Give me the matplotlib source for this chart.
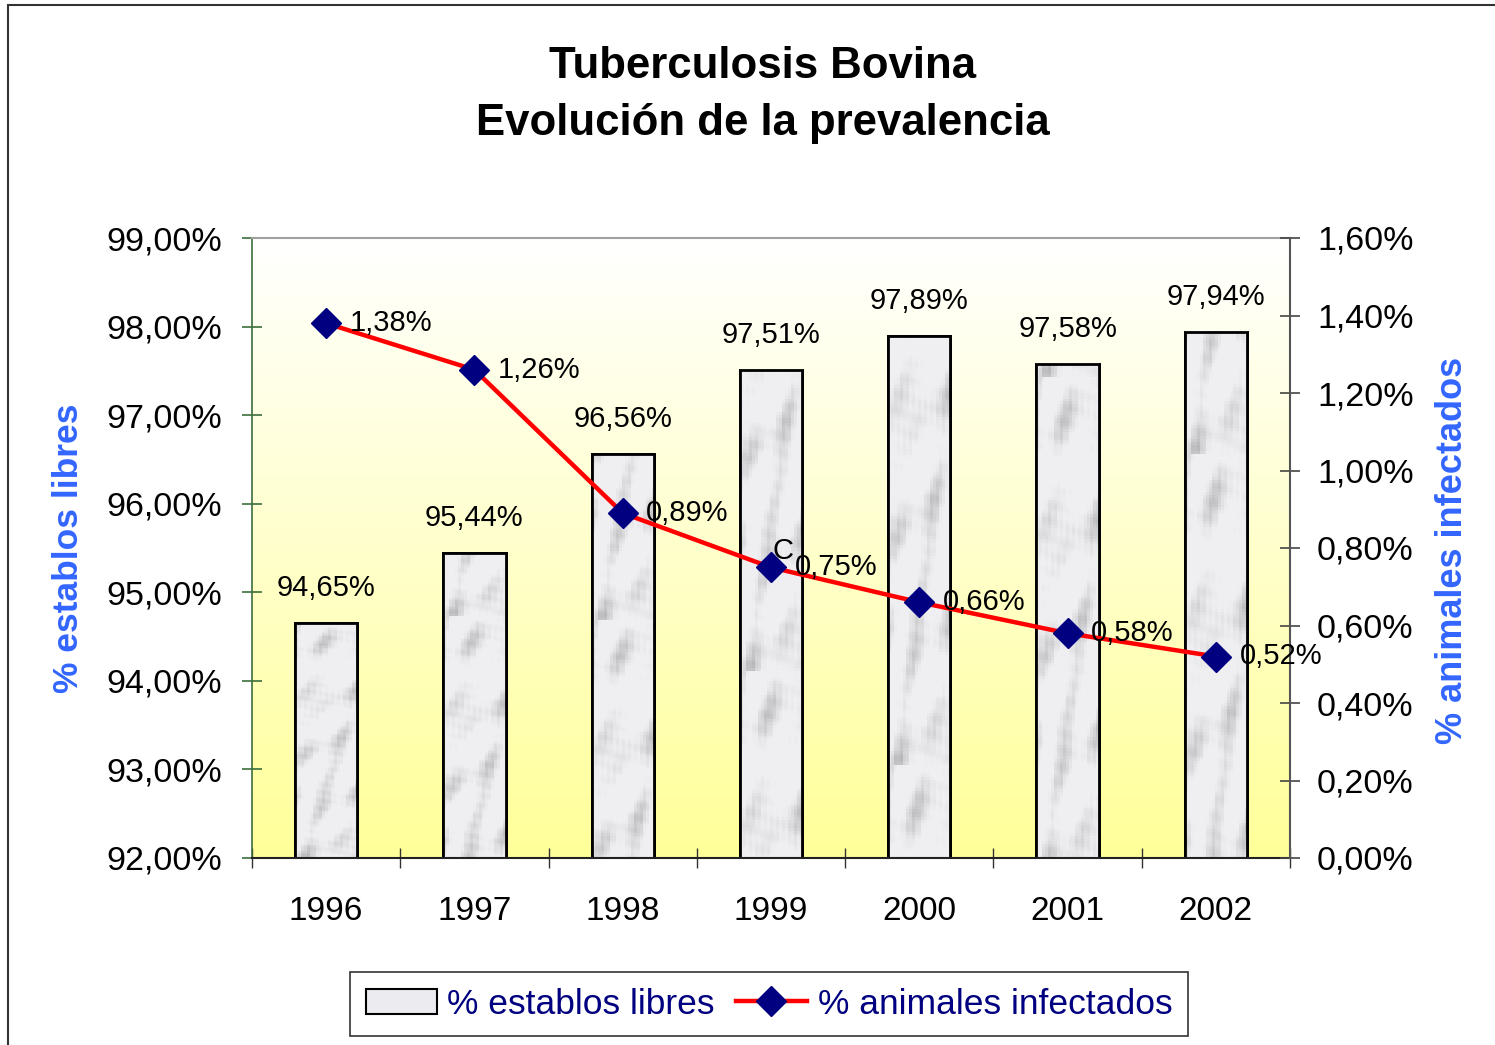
import matplotlib
matplotlib.use("Agg")
import matplotlib.pyplot as plt
import numpy as np
from matplotlib.ticker import FuncFormatter, FixedLocator
from matplotlib.patches import Rectangle
from matplotlib.lines import Line2D
from matplotlib.patches import Patch

plt.rcParams['font.family'] = ['Liberation Sans', 'DejaVu Sans']

years = ['1996', '1997', '1998', '1999', '2000', '2001', '2002']
establos_libres = [94.65, 95.44, 96.56, 97.51, 97.89, 97.58, 97.94]
animales_infectados = [1.38, 1.26, 0.89, 0.75, 0.66, 0.58, 0.52]
left_ticks = [92, 93, 94, 95, 96, 97, 98, 99]
right_ticks = [0.0, 0.2, 0.4, 0.6, 0.8, 1.0, 1.2, 1.4, 1.6]

W, H = 1495, 1045
fig = plt.figure(figsize=(W / 100, H / 100), dpi=100)
fig.patch.set_facecolor('white')

# outer frame
fig.add_artist(Rectangle((8 / W, -0.05), 1.2, 1 - 5 / H + 0.05, transform=fig.transFigure,
                         fill=False, edgecolor='#333333', lw=1.5))

ax = fig.add_axes([252 / W, 1 - 858 / H, (1290 - 252) / W, (858 - 238) / H])
x = np.arange(len(years))

# gradient background
grad = np.linspace(0, 1, 256).reshape(-1, 1)
top = np.array([1.0, 1.0, 1.0])
bot = np.array([1.0, 1.0, 0.60])
img = top[None, None, :] * (1 - grad[:, :, None]) + bot[None, None, :] * grad[:, :, None]
ax.imshow(img, extent=[0, 1, 0, 1], transform=ax.transAxes, aspect='auto', zorder=0)

ax.set_xlim(-0.5, len(years) - 0.5)
ax.set_ylim(92, 99)

bars = ax.bar(x, [v - 92 for v in establos_libres], bottom=92, width=0.42,
              color='#e3e3e7', edgecolor='black', linewidth=2, zorder=2)

# decorative marble-like texture inside bars (deterministic pattern, ~3px cells)
ty, tx = np.mgrid[0:180, 0:21].astype(float)
p = (np.sin(tx * 0.28 + ty * 0.11) * np.sin(ty * 0.05 - tx * 0.22)
     + 0.7 * np.sin(ty * 0.17 + tx * 0.5 + 1.3) * np.cos(tx * 0.15 - ty * 0.07)
     + 0.25 * np.sin(ty * 0.6 + tx * 1.3) * np.sin(tx * 1.7 - ty * 0.4))
p = (p - p.min()) / (p.max() - p.min())
gray = 0.95 - 0.22 * np.clip((p - 0.45) / 0.55, 0, 1) ** 1.5
tex = np.dstack([gray * 0.99, gray * 0.99, gray * 1.0]).clip(0, 1)
for i, b in enumerate(bars):
    x0, y0 = b.get_x(), b.get_y()
    sub = np.roll(tex, i * 37, axis=0)
    ax.imshow(sub, extent=[x0, x0 + b.get_width(), y0, y0 + b.get_height()],
              aspect='auto', zorder=2.1, interpolation='nearest')
    ax.add_patch(Rectangle((x0, y0), b.get_width(), b.get_height(), fill=False,
                           edgecolor='black', linewidth=2, zorder=2.2))
ax.set_xlim(-0.5, len(years) - 0.5)
ax.set_ylim(92, 99)

for xi, v in zip(x, establos_libres):
    ax.text(xi, v + 0.24, f"{v:.2f}%".replace('.', ','), ha='center', va='bottom',
            fontsize=21, zorder=5)

ax.yaxis.set_major_locator(FixedLocator(left_ticks))
ax.yaxis.set_major_formatter(FuncFormatter(lambda v, p: f"{v:.2f}%".replace('.', ',')))
ax.set_xticks(x)
ax.set_xticklabels(years)
ax.set_xticks(np.arange(-0.5, len(years), 1.0), minor=True)
ax.tick_params(axis='x', which='major', length=0, pad=27, labelsize=24)
ax.tick_params(axis='x', which='minor', direction='inout', length=15, width=1, color='#333333')
ax.tick_params(axis='y', direction='inout', length=15, width=1.2, pad=14, labelsize=24.5,
               color='#3c6e3c')

ax.spines['left'].set_color('#3c6e3c')
ax.spines['left'].set_linewidth(1.2)
ax.spines['bottom'].set_color('#222222')
ax.spines['bottom'].set_linewidth(1.5)
ax.spines['top'].set_color('#a0a0a0')
ax.spines['top'].set_linewidth(1.5)
ax.spines['right'].set_visible(False)

ax2 = ax.twinx()
ax2.set_ylim(0, 1.6)
ax2.yaxis.set_major_locator(FixedLocator(right_ticks))
ax2.yaxis.set_major_formatter(FuncFormatter(lambda v, p: f"{v:.2f}%".replace('.', ',')))
ax2.tick_params(axis='y', direction='inout', length=15, width=1.2, pad=12, labelsize=24.5,
                color='#444444')
for s in ['left', 'top', 'bottom']:
    ax2.spines[s].set_visible(False)
ax2.spines['right'].set_color('#555555')
ax2.spines['right'].set_linewidth(1.5)

ax2.plot(x, animales_infectados, color='#ff0000', lw=3.2, zorder=3)
ax2.plot(x, animales_infectados, linestyle='none', marker='D', markersize=15.5,
         markerfacecolor='#000080', markeredgecolor='#000080', zorder=4)
for xi, v in zip(x, animales_infectados):
    ax2.annotate(f"{v:.2f}%".replace('.', ','), (xi, v), xytext=(17, 0),
                 textcoords='offset points', ha='left', va='center', fontsize=21, zorder=5)
ax2.annotate("C", (x[3], animales_infectados[3]), xytext=(1, 2), textcoords='offset points',
             ha='left', va='bottom', fontsize=21, zorder=5)

# title
fig.text(763 / W, 1 - 67 / H, "Tuberculosis Bovina", ha='center', va='center',
         fontsize=31.5, fontweight='bold')
fig.text(763 / W, 1 - 124 / H, "Evolución de la prevalencia", ha='center', va='center',
         fontsize=31.5, fontweight='bold')

# axis labels
fig.text(68 / W, 1 - 548 / H, "% establos libres", rotation=90, ha='center', va='center',
         fontsize=25.5, fontweight='bold', color='#3366ff')
fig.text(1452 / W, 1 - 550 / H, "% animales infectados", rotation=90, ha='center',
         va='center', fontsize=26, fontweight='bold', color='#3366ff')

# legend
handles = [Patch(facecolor='#ececf0', edgecolor='black', linewidth=1.5),
           Line2D([0], [0], color='#ff0000', lw=3.2, marker='D', markersize=15,
                  markerfacecolor='#000080', markeredgecolor='#000080')]
leg = fig.legend(handles, ["% establos libres", "% animales infectados"],
                 loc='center', bbox_to_anchor=(769 / W, 1 - 1004 / H), ncol=2,
                 fontsize=25.5, frameon=True, fancybox=False, edgecolor='black',
                 handlelength=2.0, handletextpad=0.3, columnspacing=0.6,
                 borderpad=0.45, labelcolor='#000080')
leg.get_frame().set_linewidth(1.2)

fig.savefig('out.png', dpi=100)
